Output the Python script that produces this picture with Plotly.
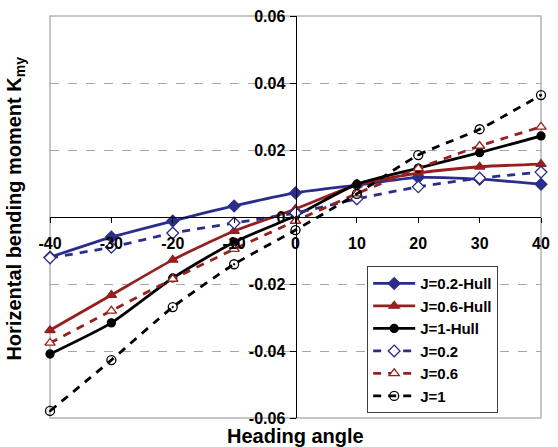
import plotly.graph_objects as go

angles = [-40, -30, -20, -10, 0, 10, 20, 30, 40]
j02_hull = [-0.0120, -0.0060, -0.0012, 0.0033, 0.0072, 0.0095, 0.0118, 0.0113, 0.0098]
j06_hull = [-0.0338, -0.0233, -0.0128, -0.0042, 0.0024, 0.0096, 0.0131, 0.0150, 0.0158]
j1_hull = [-0.0409, -0.0316, -0.0182, -0.0075, 0.0004, 0.0098, 0.0146, 0.0192, 0.0242]
j02 = [-0.0122, -0.0090, -0.0048, -0.0018, 0.0012, 0.0054, 0.0090, 0.0116, 0.0134]
j06 = [-0.0376, -0.0280, -0.0185, -0.0096, -0.0012, 0.0070, 0.0145, 0.0212, 0.0269]
j1 = [-0.0579, -0.0427, -0.0269, -0.0141, -0.0039, 0.0069, 0.0185, 0.0262, 0.0364]

x_ticks = [-40, -30, -20, -10, 0, 10, 20, 30, 40]
y_ticks = [-0.06, -0.04, -0.02, 0, 0.02, 0.04, 0.06]
y_tick_text = ["-0.06", "-0.04", "-0.02", "0", "0.02", "0.04", "0.06"]
series_names = ["J=0.2-Hull", "J=0.6-Hull", "J=1-Hull", "J=0.2", "J=0.6", "J=1"]

BLUE = "#2b2d8a"
RED = "#962020"
BLACK = "#000000"
FONT = "Liberation Sans, Arial, sans-serif"
DASH = "8px,7px"

fig = go.Figure()

def add(name, y, color, symbol, fill, dash, size):
    fig.add_trace(go.Scatter(
        x=angles, y=y, name="<b>" + name + "</b>", mode="lines+markers",
        line=dict(color=color, width=2.8, dash=dash, shape="spline", smoothing=0.6),
        marker=dict(symbol=symbol, size=size, color=fill,
                    line=dict(color=color, width=1.3)),
        cliponaxis=False,
    ))

add(series_names[0], j02_hull, BLUE, "diamond", BLUE, "solid", 9)
add(series_names[1], j06_hull, RED, "triangle-up", RED, "solid", 9)
add(series_names[2], j1_hull, BLACK, "circle", BLACK, "solid", 8)
add(series_names[3], j02, BLUE, "diamond", "white", DASH, 9)
add(series_names[4], j06, RED, "triangle-up", "white", DASH, 9)
add(series_names[5], j1, BLACK, "circle-open-dot", BLACK, DASH, 9)

fig.update_layout(
    width=558, height=447,
    margin=dict(l=50, r=8, t=15, b=29),
    paper_bgcolor="white", plot_bgcolor="white",
    font=dict(family=FONT, size=15, color="black"),
    showlegend=True,
    legend=dict(
        x=0.646, y=0.012, xanchor="left", yanchor="bottom",
        bgcolor="white", bordercolor="#404040", borderwidth=1,
        font=dict(family=FONT, size=15, color="black"),
        tracegroupgap=0, itemwidth=42,
    ),
    xaxis=dict(
        range=[-40, 40], domain=[0, 1], anchor="free", position=0.5,
        tickmode="array", tickvals=x_ticks,
        ticktext=[str(v) for v in x_ticks],
        showline=True, linecolor="black", linewidth=1,
        ticks="outside", ticklen=5, tickcolor="black",
        ticklabelstandoff=7, ticklabeloverflow="allow",
        tickfont=dict(family=FONT, size=16, weight="bold"),
        showgrid=False, zeroline=False,
    ),
    yaxis=dict(
        range=[-0.06, 0.06], domain=[0, 1], anchor="free", position=0.5,
        tickmode="array", tickvals=y_ticks, ticktext=y_tick_text,
        showline=True, linecolor="black", linewidth=1,
        ticks="outside", ticklen=6, tickcolor="black",
        ticklabelstandoff=1, ticklabeloverflow="allow",
        tickfont=dict(family=FONT, size=16, weight="bold"),
        showgrid=True, gridcolor="#a6a6a6", gridwidth=1, griddash="dash",
        zeroline=False,
    ),
    shapes=[dict(type="rect", xref="paper", yref="paper", x0=0, x1=1, y0=0, y1=1,
                 line=dict(color="#b4b4b4", width=1.5), layer="below")],
    annotations=[
        dict(text="Heading angle", xref="paper", yref="paper", x=0.5, y=-0.045,
             xanchor="center", yanchor="middle", showarrow=False,
             font=dict(family=FONT, size=20, weight="bold")),
        dict(text="Horizental bending moment K<sub>my</sub>", xref="paper", yref="paper",
             x=-0.07, y=0.52, xanchor="center", yanchor="middle", textangle=-90,
             showarrow=False, font=dict(family=FONT, size=20, weight="bold")),
    ],
)

fig.write_html("out.html")
